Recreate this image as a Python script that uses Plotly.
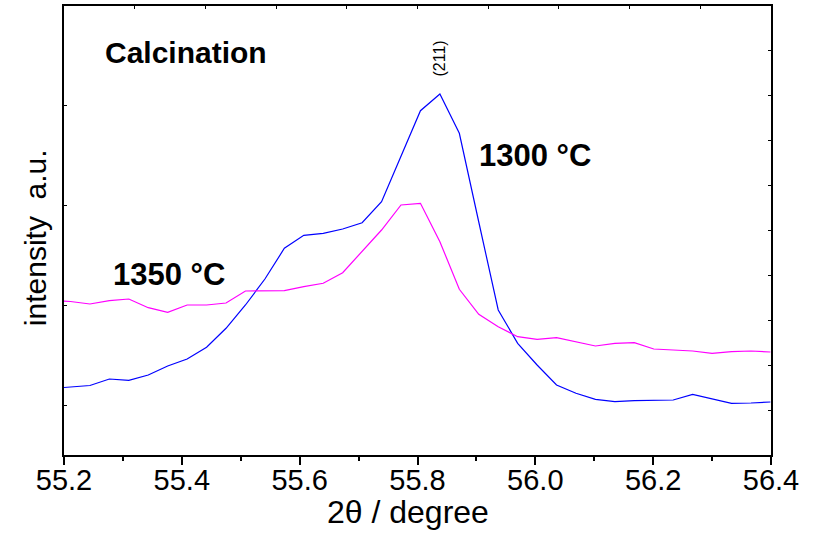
import plotly.graph_objects as go

# 2-theta sampling positions (degree)
two_theta = [55.178, 55.211, 55.244, 55.277, 55.310, 55.343, 55.376, 55.409, 55.442,
             55.475, 55.508, 55.541, 55.574, 55.607, 55.640, 55.673, 55.706, 55.739,
             55.772, 55.805, 55.838, 55.871, 55.904, 55.937, 55.970, 56.003, 56.036,
             56.069, 56.102, 56.135, 56.168, 56.201, 56.234, 56.267, 56.300, 56.333,
             56.366, 56.399]

# intensity (a.u.) - calcination at 1300 °C
i_1300 = [0.665, 0.677, 0.695, 0.760, 0.747, 0.800, 0.890, 0.960, 1.077, 1.267,
          1.500, 1.760, 2.067, 2.197, 2.217, 2.260, 2.323, 2.533, 2.983, 3.443,
          3.610, 3.217, 2.330, 1.450, 1.117, 0.900, 0.700, 0.617, 0.557, 0.533,
          0.543, 0.543, 0.550, 0.607, 0.560, 0.517, 0.520, 0.530]

# intensity (a.u.) - calcination at 1350 °C
i_1350 = [1.545, 1.535, 1.510, 1.543, 1.560, 1.473, 1.427, 1.500, 1.500, 1.520,
          1.640, 1.640, 1.643, 1.683, 1.717, 1.823, 2.033, 2.250, 2.500, 2.517,
          2.133, 1.657, 1.407, 1.283, 1.183, 1.157, 1.173, 1.133, 1.090, 1.117,
          1.123, 1.060, 1.053, 1.040, 1.017, 1.033, 1.040, 1.030]

x_ticks = [55.2, 55.4, 55.6, 55.8, 56.0, 56.2, 56.4]
x_ticklabels = ["55.2", "55.4", "55.6", "55.8", "56.0", "56.2", "56.4"]
y_ticks = [0.5, 1.5, 2.5, 3.5]

FONT = "Liberation Sans, Arial, sans-serif"

fig = go.Figure()
fig.add_trace(go.Scatter(x=two_theta, y=i_1300, mode="lines",
                         line=dict(color="#0000FF", width=1.2), showlegend=False))
fig.add_trace(go.Scatter(x=two_theta, y=i_1350, mode="lines",
                         line=dict(color="#FF00FF", width=1.2), showlegend=False))
# dummy trace to activate mirror axes (top / right)
fig.add_trace(go.Scatter(x=[0], y=[0], xaxis="x2", yaxis="y2", mode="markers",
                         marker=dict(opacity=0), showlegend=False, hoverinfo="skip"))

fig.update_layout(
    width=818, height=534,
    margin=dict(l=64, r=47, t=6, b=79),
    paper_bgcolor="white", plot_bgcolor="white",
    font=dict(family=FONT, color="black"),
    xaxis=dict(range=[55.2, 56.4], tickvals=x_ticks, ticktext=x_ticklabels,
               ticks="outside", ticklen=8, tickwidth=1.5, tickcolor="black",
               minor=dict(dtick=0.1, tick0=55.2, ticks="outside", ticklen=4,
                          tickwidth=1.5, tickcolor="black"),
               showline=True, linecolor="black", linewidth=1.5,
               showgrid=False, zeroline=False, ticklabelstandoff=-10,
               tickfont=dict(size=29, family=FONT, color="black")),
    yaxis=dict(range=[0, 4.49], tickvals=y_ticks, showticklabels=False,
               ticks="inside", ticklen=3, tickwidth=1.2, tickcolor="black",
               showline=True, linecolor="black", linewidth=1.5,
               showgrid=False, zeroline=False),
    xaxis2=dict(overlaying="x", side="top", range=[0, 10], dtick=1,
                ticks="inside", ticklen=3, tickwidth=1.2, tickcolor="black",
                showticklabels=False, showline=True, linecolor="black",
                linewidth=1.5, showgrid=False, zeroline=False),
    yaxis2=dict(overlaying="y", side="right", range=[0, 9.98], dtick=1,
                ticks="inside", ticklen=3, tickwidth=1.2, tickcolor="black",
                showticklabels=False, showline=True, linecolor="black",
                linewidth=2, showgrid=False, zeroline=False),
)

ann = [
    dict(text="<b>Calcination</b>", x=0.055, y=0.896, xanchor="left", yanchor="middle",
         font=dict(size=30, family=FONT)),
    dict(text="<b>1300 °C</b>", x=0.584, y=0.668, xanchor="left", yanchor="middle",
         font=dict(size=31, family=FONT)),
    dict(text="<b>1350 °C</b>", x=0.067, y=0.401, xanchor="left", yanchor="middle",
         font=dict(size=31, family=FONT)),
    dict(text="(211)", x=0.531, y=0.884, xanchor="center", yanchor="middle",
         textangle=-90, font=dict(size=16, family=FONT)),
    dict(text="2θ / degree", x=0.4866, y=-0.128, xanchor="center", yanchor="middle",
         font=dict(size=32, family=FONT)),
    dict(text="intensity  a.u.", x=-0.041, y=0.483, xanchor="center", yanchor="middle",
         textangle=-90, font=dict(size=30, family=FONT)),
]
for a in ann:
    a.update(xref="paper", yref="paper", showarrow=False)
    fig.add_annotation(**a)

fig.write_html("out.html")
